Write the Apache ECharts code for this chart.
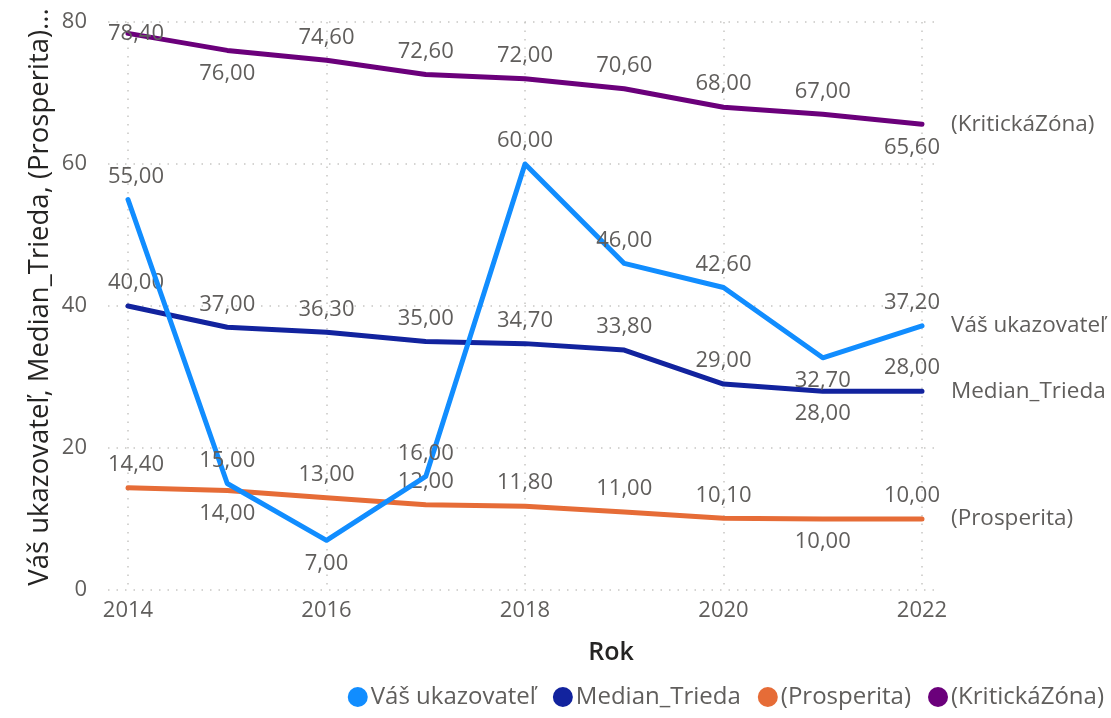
<!DOCTYPE html>
<html>
<head>
<meta charset="utf-8">
<script src="https://cdn.jsdelivr.net/npm/echarts@6/dist/echarts.min.js"></script>
<style>html,body{margin:0;padding:0;background:#fff;}#c{width:1111px;height:718px;}</style>
</head>
<body>
<div id="c"></div>
<script>
var years = [2014, 2015, 2016, 2017, 2018, 2019, 2020, 2021, 2022];
var seriesNames = ['Váš ukazovateľ', 'Median_Trieda', '(Prosperita)', '(KritickáZóna)'];
var vas = [55, 15, 7, 16, 60, 46, 42.6, 32.7, 37.2];
var median = [40, 37, 36.3, 35, 34.7, 33.8, 29, 28, 28];
var prosperita = [14.4, 14, 13, 12, 11.8, 11, 10.1, 10, 10];
var kriticka = [78.4, 76, 74.6, 72.6, 72, 70.6, 68, 67, 65.6];
var yTicks = [0, 20, 40, 60, 80];
var xTicks = [2014, 2016, 2018, 2020, 2022];
var xTitle = 'Rok';
var yTitle = 'Váš ukazovateľ, Median_Trieda, (Prosperita)...';

var colors = ['#118DFF', '#12239E', '#E66C37', '#6B007B'];
var labelPos = [
  ['top','top','bottom','top','top','top','top','bottom','top'],
  ['top','top','top','top','top','top','top','bottom','top'],
  ['top','bottom','top','top','top','top','top','bottom','top'],
  ['inside','bottom','top','top','top','top','top','top','bottom']
];
var allValues = [vas, median, prosperita, kriticka];
var FONT = '"Open Sans", "Noto Sans", sans-serif';
var gray = '#605E5C';

function fmt(v) { return v.toFixed(2).replace('.', ','); }

var series = allValues.map(function (vals, si) {
  return {
    name: seriesNames[si],
    type: 'line',
    xAxisIndex: 1,
    yAxisIndex: 1,
    symbol: 'circle',
    symbolSize: 0,
    lineStyle: { width: 5, color: colors[si], cap: 'round', join: 'round' },
    itemStyle: { color: colors[si] },
    z: 10 - si,
    data: vals.map(function (v, i) {
      var off = i === 0 ? [8, 0] : (i === vals.length - 1 ? [-10, 0] : [0, 0]);
      return {
        value: [years[i], v],
        label: {
          show: true,
          position: labelPos[si][i],
          distance: 12,
          offset: off,
          formatter: function () { return fmt(v); }
        }
      };
    }),
    label: { show: true, color: gray, fontSize: 22, fontFamily: FONT },
    endLabel: {
      show: true,
      formatter: '{a}',
      color: gray,
      fontSize: 22.5,
      fontFamily: FONT,
      distance: 29
    },
    emphasis: { disabled: true }
  };
});

var chart = echarts.init(document.getElementById('c'));
chart.setOption({
  animation: false,
  color: colors,
  textStyle: { fontFamily: FONT },
  grid: [
    { left: 108, right: 173, top: 22, bottom: 128 },
    { left: 128, right: 189, top: 22, bottom: 128 }
  ],
  legend: {
    data: seriesNames,
    right: 2,
    bottom: 4,
    icon: 'circle',
    itemWidth: 20,
    itemHeight: 20,
    itemGap: 17,
    textStyle: { color: gray, fontSize: 24, fontFamily: FONT, padding: [0, 0, 0, -2] }
  },
  graphic: [
    { type: 'text', x: 611, y: 653, silent: true,
      style: { text: xTitle, fill: '#252423', font: '600 25px ' + FONT, textAlign: 'center', textVerticalAlign: 'middle' } },
    { type: 'text', x: 40, y: 297, rotation: Math.PI / 2, silent: true,
      style: { text: yTitle, fill: '#252423', font: '27.5px ' + FONT, textAlign: 'center', textVerticalAlign: 'middle' } }
  ],
  xAxis: [
    { type: 'value', gridIndex: 0, min: 0, max: 1, show: false },
    {
      type: 'value', gridIndex: 1, min: 2014, max: 2022, interval: 2,
      axisLine: { show: false }, axisTick: { show: false },
      axisLabel: { color: gray, fontSize: 22, fontFamily: FONT, margin: 10,
        formatter: function (v) { return xTicks.indexOf(v) >= 0 ? String(v) : ''; } },
      splitLine: { show: true, lineStyle: { color: '#C8C6C4', type: [1.5, 7], width: 1.5 } }
    }
  ],
  yAxis: [
    {
      type: 'value', gridIndex: 0, min: 0, max: 80, interval: 20,
      axisLine: { show: false }, axisTick: { show: false },
      axisLabel: { color: gray, fontSize: 22, fontFamily: FONT, margin: 21,
        formatter: function (v) { return yTicks.indexOf(v) >= 0 ? String(v) : ''; } },
      splitLine: { show: true, lineStyle: { color: '#C8C6C4', type: [1.5, 7], width: 1.5 } }
    },
    { type: 'value', gridIndex: 1, min: 0, max: 80, interval: 20, show: false, splitLine: { show: false } }
  ],
  series: series
});
</script>
</body>
</html>
